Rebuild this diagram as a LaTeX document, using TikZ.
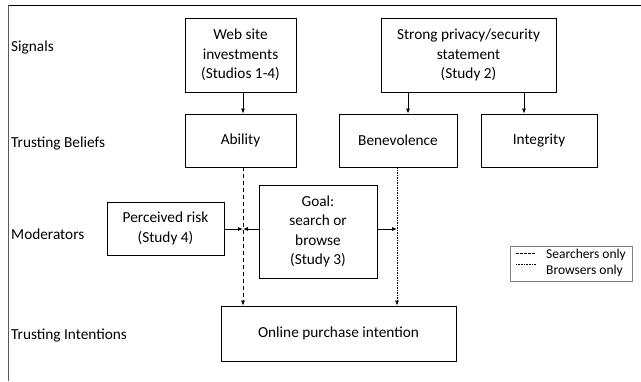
\documentclass[tikz,border=0pt]{standalone}
\usepackage{fontspec}
\setmainfont{Carlito}
\usetikzlibrary{arrows.meta}
\begin{document}
\begin{tikzpicture}[x=1pt,y=-1pt,
  box/.style={draw, line width=0.9pt, align=center, inner sep=2pt, font=\fontsize{15.3}{19.5}\selectfont},
  lab/.style={anchor=west, inner sep=0pt, font=\fontsize{15.3}{18}\selectfont},
  arr/.style={-{Latex[length=5pt,width=4pt]}, line width=0.8pt},
  sdash/.style={dash pattern=on 4pt off 3pt},
  sdot/.style={dash pattern=on 1.5pt off 1pt},
  legtext/.style={anchor=west, inner sep=0pt, font=\fontsize{13.5}{15}\selectfont},
]
\useasboundingbox (0,0) rectangle (641,381);
% frame lines
\draw[line width=1pt] (8,5) -- (641,5);
\draw[line width=1pt, gray!70!black] (8,5) -- (8,381);

% row labels
\node[lab] (lsig) at (11,47) {Signals};
\node[lab] (lbel) at (11,143) {Trusting Beliefs};
\node[lab] (lmod) at (11,234) {Moderators};
\node[lab] (lint) at (11,336) {Trusting Intentions};

% boxes
\node[box, minimum width=111, minimum height=74] (web) at (240.5,55) {Web site\\investments\\(Studios 1-4)};
\node[box, minimum width=175, minimum height=74] (strong) at (468.5,55) {Strong privacy/security\\statement\\(Study 2)};
\node[box, minimum width=111, minimum height=53] (ability) at (240.5,140.5) {Ability};
\node[box, minimum width=118, minimum height=53] (bene) at (398,140.5) {Benevolence};
\node[box, minimum width=116, minimum height=53] (integ) at (539,140.5) {Integrity};
\node[box, minimum width=117, minimum height=53] (risk) at (165.5,228.5) {Perceived risk\\(Study 4)};
\node[box, minimum width=118, minimum height=93] (goal) at (318,231.5) {Goal:\\search or\\browse\\(Study 3)};
\node[box, minimum width=235, minimum height=55] (online) at (338.5,333.5) {Online purchase intention};

% guide coordinates
\coordinate (xa) at (243,229);
\coordinate (xb) at (397,229);
\coordinate (xs1) at (408,0);
\coordinate (xs2) at (524,0);

% signal arrows
\draw[arr] (web.south -| xa) -- (ability.north -| xa);
\draw[arr] (strong.south -| xs1) -- (bene.north -| xs1);
\draw[arr] (strong.south -| xs2) -- (integ.north -| xs2);

% belief to intention
\draw[arr, sdash] (ability.south -| xa) -- (online.north -| xa);
\draw[arr, sdot] (bene.south -| xb) -- (online.north -| xb);

% moderators
\draw[arr] (risk.east |- xa) -- (xa);
\draw[arr] (goal.west |- xa) -- (xa);
\draw[arr] (goal.east |- xb) -- (xb);

% legend
\node[draw=gray, line width=0.8pt, minimum width=122, minimum height=35, inner sep=0pt] (legend) at (571.5,263.5) {};
\node[legtext] (ls) at (546,255) {Searchers only};
\node[legtext] (lb) at (546,271) {Browsers only};
\coordinate (d1) at (516,253);
\coordinate (d2) at (536,253);
\coordinate (t1) at (516,264);
\coordinate (t2) at (536,264);
\draw[line width=0.6pt, dash pattern=on 2.5pt off 1.5pt] (d1) -- (d2);
\draw[line width=0.6pt, dash pattern=on 1pt off 0.6pt] (t1) -- (t2);
\end{tikzpicture}
\end{document}
